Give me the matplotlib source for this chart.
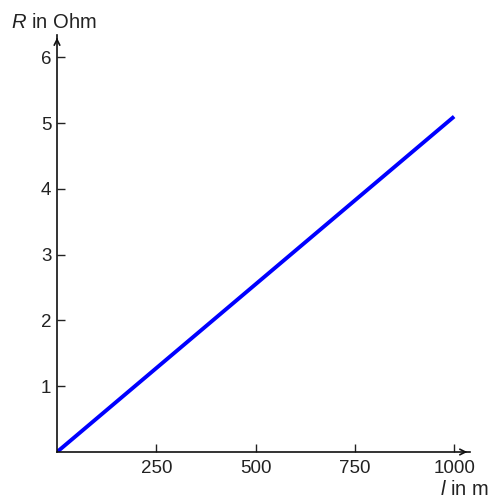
import numpy as np
import matplotlib.pyplot as plt

plt.rcParams['font.family'] = ['Liberation Sans', 'DejaVu Sans']
plt.rcParams['mathtext.fontset'] = 'custom'
plt.rcParams['mathtext.it'] = 'Liberation Sans:italic'
plt.rcParams['mathtext.rm'] = 'Liberation Sans'

# Widerstand eines Drahtes in Abhängigkeit der Länge
laenge = [0, 1000]
widerstand = [0, 5.1]
x_ticks = [250, 500, 750, 1000]
y_ticks = [1, 2, 3, 4, 5, 6]

fig = plt.figure(figsize=(4.93, 4.98), dpi=100)
ax = fig.add_axes([57 / 493, 46 / 498, 413 / 493, 417 / 498])

ax.plot(laenge, widerstand, color='#0000ff', lw=2.8, solid_capstyle='butt')

ax.set_xlim(0, 1040)
ax.set_ylim(0, 6.34)
ax.set_xticks(x_ticks)
ax.set_yticks(y_ticks)
ax.tick_params(direction='in', length=6, width=1, labelsize=13.5, colors='#222222', pad=4)
ax.tick_params(axis='x', pad=6)

for s in ['top', 'right']:
    ax.spines[s].set_visible(False)
for s in ['left', 'bottom']:
    ax.spines[s].set_linewidth(1.2)
    ax.spines[s].set_color('#111111')

# Pfeile an den Achsen
ax.annotate('', xy=(1.0, 0), xytext=(0.98, 0), xycoords='axes fraction',
            arrowprops=dict(arrowstyle='->', lw=1.2, color='#111111'), annotation_clip=False)
ax.annotate('', xy=(0, 1.0), xytext=(0, 0.98), xycoords='axes fraction',
            arrowprops=dict(arrowstyle='->', lw=1.2, color='#111111'), annotation_clip=False)

fig.text(11 / 493, 1 - 22 / 498, r'$R$ in Ohm', fontsize=14.5, va='center', ha='left',
         color='#222222')
fig.text(440 / 493, 1 - 489 / 498, r'$l$ in m', fontsize=14.5, va='center', ha='left',
         color='#222222')

fig.savefig('out.png', dpi=100)
